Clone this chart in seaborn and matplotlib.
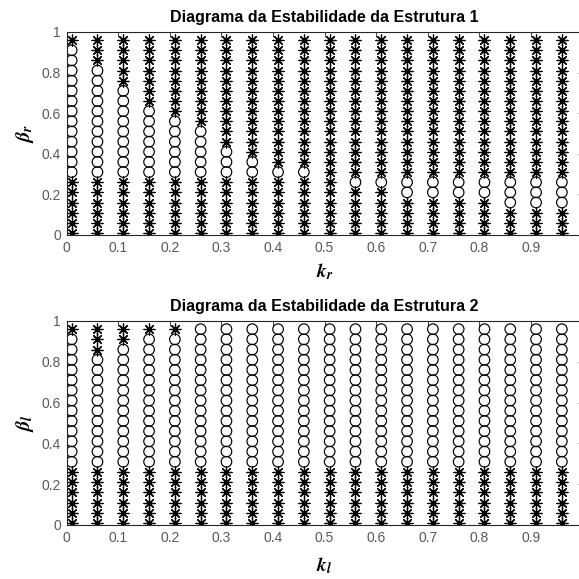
import numpy as np
import pandas as pd
import matplotlib
matplotlib.use("Agg")
import matplotlib.pyplot as plt
import seaborn as sns

# ---------------- data ----------------
k_values = [0.01, 0.06, 0.11, 0.16, 0.21, 0.26, 0.31, 0.36, 0.41, 0.46,
            0.51, 0.56, 0.61, 0.66, 0.71, 0.76, 0.81, 0.86, 0.91, 0.96]
beta_values = [0.01, 0.06, 0.11, 0.16, 0.21, 0.26, 0.31, 0.36, 0.41, 0.46,
               0.51, 0.56, 0.61, 0.66, 0.71, 0.76, 0.81, 0.86, 0.91, 0.96]

# per k column: highest and lowest beta drawn as circle (None = no circle)
s1_circle_top = [0.91, 0.81, 0.71, 0.61, 0.56, 0.51, 0.41, 0.36, 0.31, 0.31,
                 None, 0.26, 0.26, 0.26, 0.26, 0.26, 0.26, 0.26, 0.26, 0.26]
s1_circle_bottom = [0.31, 0.31, 0.31, 0.31, 0.31, 0.31, 0.31, 0.31, 0.31, 0.31,
                    None, 0.26, 0.26, 0.21, 0.21, 0.21, 0.21, 0.16, 0.16, 0.16]
s2_circle_top = [0.91, 0.81, 0.86, 0.91, 0.91, 0.96, 0.96, 0.96, 0.96, 0.96,
                 0.96, 0.96, 0.96, 0.96, 0.96, 0.96, 0.96, 0.96, 0.96, 0.96]
s2_circle_bottom = [0.31, 0.31, 0.31, 0.31, 0.31, 0.31, 0.31, 0.31, 0.31, 0.31,
                    0.31, 0.31, 0.31, 0.31, 0.31, 0.31, 0.31, 0.31, 0.31, 0.31]

titles = ["Diagrama da Estabilidade da Estrutura 1",
          "Diagrama da Estabilidade da Estrutura 2"]
xlabels = [r"$k_r$", r"$k_l$"]
ylabels = [r"$\beta_r$", r"$\beta_l$"]
x_ticks = [0, 0.1, 0.2, 0.3, 0.4, 0.5, 0.6, 0.7, 0.8, 0.9]
x_ticklabels = ["0", "0.1", "0.2", "0.3", "0.4", "0.5", "0.6", "0.7", "0.8", "0.9"]
y_ticks = [0, 0.2, 0.4, 0.6, 0.8, 1]
y_ticklabels = ["0", "0.2", "0.4", "0.6", "0.8", "1"]


def build(tops, bottoms):
    rows = []
    for k, top, bot in zip(k_values, tops, bottoms):
        for b in beta_values:
            circ = top is not None and (bot - 1e-9) <= b <= (top + 1e-9)
            rows.append({"k": k, "beta": b, "state": "circle" if circ else "star"})
    return pd.DataFrame(rows)


frames = [build(s1_circle_top, s1_circle_bottom), build(s2_circle_top, s2_circle_bottom)]

# ---------------- style ----------------
sns.set_theme(style="white")
plt.rcParams["font.family"] = ["Liberation Sans", "DejaVu Sans"]
plt.rcParams["mathtext.fontset"] = "custom"
plt.rcParams["mathtext.it"] = "STIXGeneral:italic:bold"
plt.rcParams["mathtext.rm"] = "STIXGeneral:bold"
plt.rcParams["mathtext.bf"] = "STIXGeneral:bold"

W = H = 579
fig = plt.figure(figsize=(5.79, 5.79), dpi=100)
fig.patch.set_facecolor("white")

ax_left = 66.5 / W
ax_width = 516 / W
positions = [(ax_left, (W - 235) / W, ax_width, 203 / H),
             (ax_left, (W - 525) / W, ax_width, 204 / H)]
xlabel_pads = [5, 8]

spine_color = "#262626"
tick_color = "#595959"

for i, df in enumerate(frames):
    ax = fig.add_axes(positions[i])
    stars = df[df["state"] == "star"]
    circles = df[df["state"] == "circle"]
    sns.scatterplot(data=stars, x="k", y="beta", marker=(8, 2, 0), s=62,
                    color="black", linewidth=0.9, ax=ax, legend=False)
    if len(circles):
        sns.scatterplot(data=circles, x="k", y="beta", marker="o", s=58,
                        facecolor="none", edgecolor="black", linewidth=0.85,
                        ax=ax, legend=False)
    ax.set_xlim(0, 1)
    ax.set_ylim(0, 1)
    ax.set_xticks(x_ticks)
    ax.set_xticklabels(x_ticklabels)
    ax.set_yticks(y_ticks)
    ax.set_yticklabels(y_ticklabels)
    ax.tick_params(direction="in", top=True, right=True, length=3.6, width=0.6,
                   color=spine_color, labelcolor=tick_color, labelsize=10, pad=4)
    for sp in ax.spines.values():
        sp.set_visible(True)
        sp.set_color(spine_color)
        sp.set_linewidth(0.8)
    ax.set_title(titles[i], fontsize=11.5, fontweight="bold", color="black", pad=7)
    ax.set_xlabel(xlabels[i], fontsize=14, color="black", labelpad=xlabel_pads[i])
    ax.set_ylabel(ylabels[i], fontsize=14.5, color="black", labelpad=4)

fig.savefig("out.png", dpi=100, facecolor="white")
